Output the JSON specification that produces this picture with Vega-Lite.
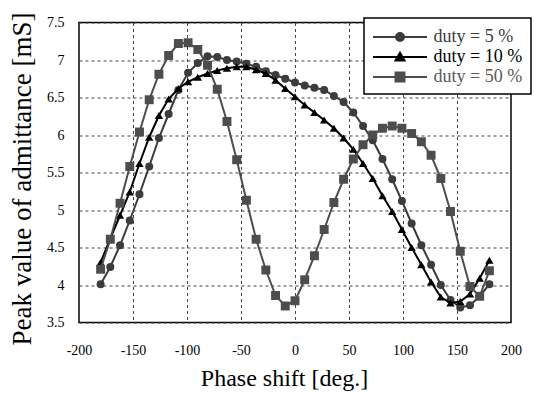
{
  "$schema": "https://vega.github.io/schema/vega-lite/v6.json",
  "width": 432,
  "height": 300,
  "autosize": "none",
  "padding": {"left": 79, "top": 22.5, "right": 24, "bottom": 71.5},
  "background": "white",
  "config": {
    "view": {"stroke": "black", "strokeWidth": 1.5},
    "font": "Liberation Serif",
    "axis": {"labelOverlap": false}
  },
  "datasets": {
    "d5": [
      {"phase": -180, "value": 4.01}, {"phase": -171, "value": 4.24}, {"phase": -162, "value": 4.53}, {"phase": -153, "value": 4.86},
      {"phase": -144, "value": 5.21}, {"phase": -135, "value": 5.58}, {"phase": -126, "value": 5.96}, {"phase": -117, "value": 6.28},
      {"phase": -108, "value": 6.6}, {"phase": -99, "value": 6.83}, {"phase": -90, "value": 6.96}, {"phase": -81, "value": 7.05},
      {"phase": -72, "value": 7.04}, {"phase": -63, "value": 7.0}, {"phase": -54, "value": 6.98}, {"phase": -45, "value": 6.95},
      {"phase": -36, "value": 6.91}, {"phase": -27, "value": 6.85}, {"phase": -18, "value": 6.8}, {"phase": -9, "value": 6.75},
      {"phase": 0, "value": 6.7}, {"phase": 9, "value": 6.66}, {"phase": 18, "value": 6.63}, {"phase": 27, "value": 6.6},
      {"phase": 36, "value": 6.52}, {"phase": 45, "value": 6.44}, {"phase": 54, "value": 6.3}, {"phase": 63, "value": 6.12},
      {"phase": 72, "value": 5.93}, {"phase": 81, "value": 5.68}, {"phase": 90, "value": 5.41}, {"phase": 99, "value": 5.12},
      {"phase": 108, "value": 4.82}, {"phase": 117, "value": 4.53}, {"phase": 126, "value": 4.27}, {"phase": 135, "value": 4.0},
      {"phase": 144, "value": 3.8}, {"phase": 153, "value": 3.7}, {"phase": 162, "value": 3.73}, {"phase": 171, "value": 3.85},
      {"phase": 180, "value": 4.01}
    ],
    "d10": [
      {"phase": -180, "value": 4.3}, {"phase": -171, "value": 4.62}, {"phase": -162, "value": 4.93}, {"phase": -153, "value": 5.24},
      {"phase": -144, "value": 5.62}, {"phase": -135, "value": 5.97}, {"phase": -126, "value": 6.26}, {"phase": -117, "value": 6.48},
      {"phase": -108, "value": 6.62}, {"phase": -99, "value": 6.71}, {"phase": -90, "value": 6.77}, {"phase": -81, "value": 6.82},
      {"phase": -72, "value": 6.86}, {"phase": -63, "value": 6.89}, {"phase": -54, "value": 6.91}, {"phase": -45, "value": 6.91},
      {"phase": -36, "value": 6.87}, {"phase": -27, "value": 6.82}, {"phase": -18, "value": 6.73}, {"phase": -9, "value": 6.62},
      {"phase": 0, "value": 6.51}, {"phase": 9, "value": 6.4}, {"phase": 18, "value": 6.3}, {"phase": 27, "value": 6.2},
      {"phase": 36, "value": 6.09}, {"phase": 45, "value": 5.96}, {"phase": 54, "value": 5.81}, {"phase": 63, "value": 5.62},
      {"phase": 72, "value": 5.42}, {"phase": 81, "value": 5.19}, {"phase": 90, "value": 4.98}, {"phase": 99, "value": 4.74},
      {"phase": 108, "value": 4.5}, {"phase": 117, "value": 4.27}, {"phase": 126, "value": 4.04}, {"phase": 135, "value": 3.84},
      {"phase": 144, "value": 3.76}, {"phase": 153, "value": 3.78}, {"phase": 162, "value": 3.88}, {"phase": 171, "value": 4.09},
      {"phase": 180, "value": 4.33}
    ],
    "d50": [
      {"phase": -180, "value": 4.21}, {"phase": -171, "value": 4.61}, {"phase": -162, "value": 5.09}, {"phase": -153, "value": 5.58},
      {"phase": -144, "value": 6.04}, {"phase": -135, "value": 6.47}, {"phase": -126, "value": 6.81}, {"phase": -117, "value": 7.06},
      {"phase": -108, "value": 7.22}, {"phase": -99, "value": 7.23}, {"phase": -90, "value": 7.14}, {"phase": -81, "value": 6.93},
      {"phase": -72, "value": 6.61}, {"phase": -63, "value": 6.18}, {"phase": -54, "value": 5.67}, {"phase": -45, "value": 5.13},
      {"phase": -36, "value": 4.61}, {"phase": -27, "value": 4.2}, {"phase": -18, "value": 3.86}, {"phase": -9, "value": 3.72},
      {"phase": 0, "value": 3.79}, {"phase": 9, "value": 4.07}, {"phase": 18, "value": 4.39}, {"phase": 27, "value": 4.74},
      {"phase": 36, "value": 5.1}, {"phase": 45, "value": 5.41}, {"phase": 54, "value": 5.68}, {"phase": 63, "value": 5.87},
      {"phase": 72, "value": 6.0}, {"phase": 81, "value": 6.09}, {"phase": 90, "value": 6.12}, {"phase": 99, "value": 6.09},
      {"phase": 108, "value": 6.02}, {"phase": 117, "value": 5.91}, {"phase": 126, "value": 5.73}, {"phase": 135, "value": 5.42},
      {"phase": 144, "value": 4.98}, {"phase": 153, "value": 4.45}, {"phase": 162, "value": 3.98}, {"phase": 171, "value": 3.85},
      {"phase": 180, "value": 4.19}
    ]
  },
  "encoding": {
    "x": {
      "field": "phase", "type": "quantitative",
      "scale": {"domain": [-200, 200], "nice": false, "zero": false},
      "axis": {
        "title": "Phase shift [deg.]",
        "values": [-200, -150, -100, -50, 0, 50, 100, 150, 200],
        "labelExpr": "datum.value + ''",
        "labelFont": "Liberation Serif", "labelFontSize": 14, "labelColor": "black",
        "labelPadding": 21, "ticks": false, "domain": false,
        "labelFlush": false, "labelOverlap": false,
        "grid": true, "gridDash": [3, 3], "gridColor": "#444", "gridWidth": 1,
        "titleFont": "Liberation Serif", "titleFontSize": 24, "titleFontWeight": "normal", "titleColor": "black",
        "titlePadding": 9, "titleX": 205
      }
    },
    "y": {
      "field": "value", "type": "quantitative",
      "scale": {"domain": [3.5, 7.5], "nice": false, "zero": false},
      "axis": {
        "title": "Peak value of admittance [mS]",
        "values": [3.5, 4, 4.5, 5, 5.5, 6, 6.5, 7, 7.5],
        "labelExpr": "datum.value + ''",
        "labelFont": "Liberation Serif", "labelFontSize": 14, "labelColor": "black",
        "labelPadding": 15, "ticks": false, "domain": false,
        "labelFlush": false, "labelOverlap": false,
        "grid": true, "gridDash": [3, 3], "gridColor": "#444", "gridWidth": 1,
        "titleFont": "Liberation Serif", "titleFontSize": 27, "titleFontWeight": "normal", "titleColor": "black",
        "titlePadding": 10, "titleY": 156
      }
    },
    "color": {
      "field": "duty", "type": "nominal",
      "scale": {"domain": ["duty = 5 %", "duty = 10 %", "duty = 50 %"], "range": ["#3c3c3c", "#000000", "#4d4d4d"]},
      "legend": {
        "orient": "none", "legendX": 285, "legendY": -4.5,
        "title": null, "padding": 8,
        "fillColor": "white", "strokeColor": "black",
        "labelFont": "Liberation Serif", "labelFontSize": 18, "labelOffset": 39.5,
        "symbolSize": 400, "rowPadding": 0, "labelLimit": 300,
        "encode": {
          "legend": {"update": {"strokeWidth": {"value": 1.5}}},
          "symbols": {
            "update": {
              "shape": {"signal": "datum.value === 'duty = 5 %' ? 'M-1,0H4.4M1.3,0A0.4,0.4 0 1,0 2.1,0A0.4,0.4 0 1,0 1.3,0Z' : datum.value === 'duty = 10 %' ? 'M-1,0H4.4M1.7,-0.42L2.15,0.36L1.25,0.36Z' : 'M-1,0H4.4M1.25,-0.45H2.15V0.45H1.25Z'"},
              "fill": {"signal": "datum.value === 'duty = 5 %' ? '#3c3c3c' : datum.value === 'duty = 10 %' ? '#000000' : '#4d4d4d'"},
              "stroke": {"signal": "datum.value === 'duty = 5 %' ? '#3c3c3c' : datum.value === 'duty = 10 %' ? '#000000' : '#4d4d4d'"},
              "strokeWidth": {"value": 2},
              "opacity": {"value": 1},
              "fillOpacity": {"value": 1}
            }
          },
          "labels": {
            "update": {
              "fill": {"signal": "datum.value === 'duty = 5 %' ? '#3c3c3c' : datum.value === 'duty = 10 %' ? '#000000' : '#5a5a5a'"}
            }
          }
        }
      }
    }
  },
  "layer": [
    {
      "data": {"name": "d5"},
      "transform": [{"calculate": "'duty = 5 %'", "as": "duty"}],
      "layer": [
        {"mark": {"type": "line", "strokeWidth": 2}},
        {"mark": {"type": "point", "shape": "circle", "filled": true, "opacity": 1, "size": 64}}
      ]
    },
    {
      "data": {"name": "d10"},
      "transform": [{"calculate": "'duty = 10 %'", "as": "duty"}],
      "layer": [
        {"mark": {"type": "line", "strokeWidth": 2}},
        {"mark": {"type": "point", "shape": "triangle-up", "filled": true, "opacity": 1, "size": 70}}
      ]
    },
    {
      "data": {"name": "d50"},
      "transform": [{"calculate": "'duty = 50 %'", "as": "duty"}],
      "layer": [
        {"mark": {"type": "line", "strokeWidth": 2}},
        {"mark": {"type": "point", "shape": "square", "filled": true, "opacity": 1, "size": 80}}
      ]
    }
  ]
}
